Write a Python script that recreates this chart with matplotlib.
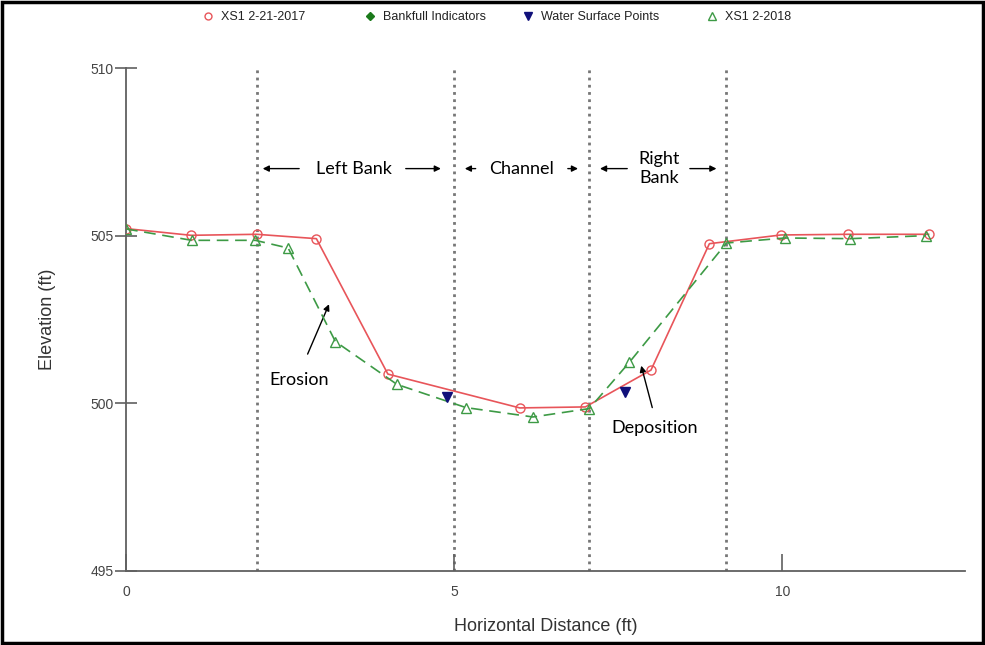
import numpy as np
import matplotlib
matplotlib.use('Agg')
import matplotlib.pyplot as plt
from matplotlib.lines import Line2D
from matplotlib.patches import Rectangle

plt.rc('font', family=['Liberation Sans', 'DejaVu Sans'])

# cross-section survey XS1, February 2017
xs2017_x = [0.0, 0.99, 1.99, 2.90, 3.99, 6.00, 7.00, 8.00, 8.89, 9.98, 11.00, 12.23]
xs2017_y = [505.21, 505.01, 505.04, 504.91, 500.87, 499.86, 499.89, 500.99, 504.76, 505.02, 505.04, 505.04]

# repeat survey XS1, February 2018
xs2018_x = [0.0, 1.00, 1.97, 2.47, 3.19, 4.13, 5.18, 6.20, 7.06, 7.67, 9.15, 10.04, 11.04, 12.19]
xs2018_y = [505.20, 504.86, 504.86, 504.63, 501.84, 500.56, 499.87, 499.59, 499.84, 501.22, 504.78, 504.93, 504.91, 505.00]

# water surface and bankfull points
wsp_x = [4.89, 7.60]
wsp_y = [500.20, 500.33]
bankfull_x = []
bankfull_y = []

# zone boundaries and labels
zone_edges = [2.0, 5.0, 7.05, 9.15]
zone_names = ['Left Bank', 'Channel', 'Right\nBank']
zone_label_x = [3.47, 6.03, 8.13]

red = '#e8555a'
green = '#3d9a45'
navy = '#10107a'
grey = '#606060'

fig = plt.figure(figsize=(9.85, 6.45), dpi=100)
ax = fig.add_axes([0.128, 0.115, 0.852, 0.7795])

for xe in zone_edges:
    ax.axvline(xe, color='#777777', ls=(0, (1, 1.6)), lw=2.0, zorder=1)

ax.plot(xs2017_x, xs2017_y, '-', color=red, lw=1.2, marker='o', ms=6.5,
        mfc='none', mec=red, mew=1.0, zorder=3)
ax.plot(xs2018_x, xs2018_y, color=green, ls=(0, (7, 4)), lw=1.2, marker='^', ms=7,
        mfc='none', mec=green, mew=1.0, zorder=4)
ax.plot(wsp_x, wsp_y, 'v', color=navy, ms=7, ls='none', zorder=5)
ax.plot(bankfull_x, bankfull_y, 'D', color='#1a7a1a', ms=5, ls='none', zorder=5)

ax.set_xlim(0, 12.79)
ax.set_ylim(495, 510)
ax.set_xticks([0, 5, 10])
ax.set_yticks([495, 500, 505, 510])
for s in ['top', 'right']:
    ax.spines[s].set_visible(False)
for s in ['left', 'bottom']:
    ax.spines[s].set_color(grey)
    ax.spines[s].set_linewidth(1.3)
ax.tick_params(axis='y', direction='inout', length=16, width=1.2, color=grey,
               labelsize=10, labelcolor='#444444', pad=1)
ax.tick_params(axis='x', direction='in', length=12, width=1.2, color=grey,
               labelsize=10, labelcolor='#444444', pad=10)

ax.set_xlabel('Horizontal Distance (ft)', fontsize=13, color='#333333', labelpad=14)
ax.set_ylabel('Elevation (ft)', fontsize=13, color='#333333', labelpad=25)

# zone labels with arrows pointing to the boundaries
ann = dict(fontsize=13, family=['Lato', 'DejaVu Sans'], ha='center', va='center')
arr = dict(arrowstyle='-|>', color='black', lw=1.0, mutation_scale=9)
arrow_y = 507.0
zone_arrows = [((2.68, 2.04), (4.22, 4.84)),
               ((5.37, 5.12), (6.69, 6.93)),
               ((7.68, 7.18), (8.55, 9.04))]
for name, lx, (left, right) in zip(zone_names, zone_label_x, zone_arrows):
    ax.text(lx, arrow_y, name, **ann)
    ax.annotate('', xy=(left[1], arrow_y), xytext=(left[0], arrow_y), arrowprops=arr)
    ax.annotate('', xy=(right[1], arrow_y), xytext=(right[0], arrow_y), arrowprops=arr)

ax.annotate('', xy=(3.11, 503.03), xytext=(2.75, 501.39), arrowprops=arr)
ax.text(2.64, 500.68, 'Erosion', **ann)
ax.annotate('', xy=(7.84, 501.2), xytext=(8.03, 499.79), arrowprops=arr)
ax.text(8.06, 499.25, 'Deposition', **ann)

# legend row across the top, one entry per slot
handles = [
    (Line2D([], [], ls='none', marker='o', ms=5, mfc='none', mec=red), 'XS1 2-21-2017', 208),
    (Line2D([], [], ls='none', marker='D', ms=4, color='#1a7a1a'), 'Bankfull Indicators', 370),
    (Line2D([], [], ls='none', marker='v', ms=6, color=navy), 'Water Surface Points', 528),
    (Line2D([], [], ls='none', marker='^', ms=6, mfc='none', mec=green), 'XS1 2-2018', 712),
]
for h, lab, px in handles:
    leg = fig.legend([h], [lab], loc='center left', bbox_to_anchor=((px - 6) / 985, 1 - 17 / 645),
                     frameon=False, fontsize=9, handlelength=1.0, handletextpad=0.5,
                     borderaxespad=0, borderpad=0)
    for t in leg.get_texts():
        t.set_color('#222222')

fig.add_artist(Rectangle((0.002, 0.003), 0.996, 0.994, transform=fig.transFigure,
                         fill=False, lw=2.5, color='black'))

fig.savefig('out.png', dpi=100)
